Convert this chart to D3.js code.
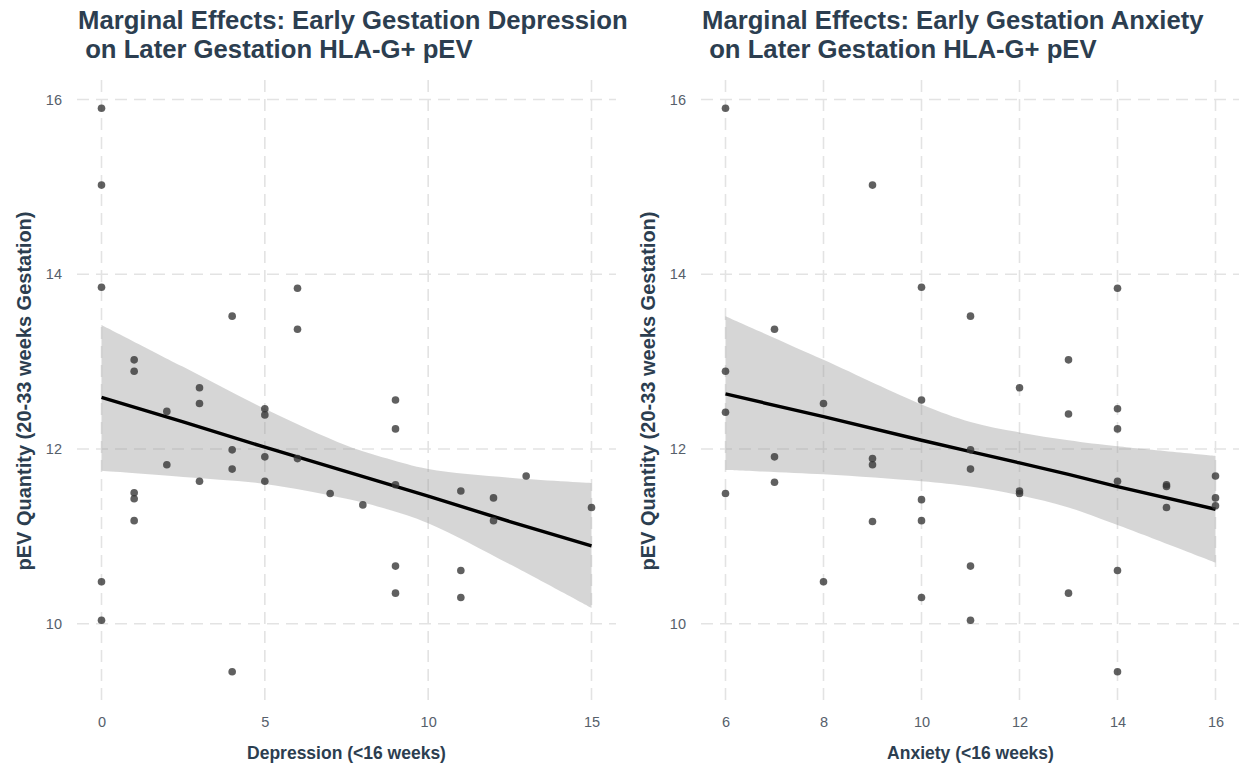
<!DOCTYPE html>
<html>
<head>
<meta charset="utf-8">
<script src="https://cdn.jsdelivr.net/npm/d3@7"></script>
<style>
  html, body { margin: 0; padding: 0; background: #ffffff; }
  svg { display: block; }
</style>
</head>
<body>
<svg id="chart" width="1239" height="766"></svg>
<script>
// ---- Depression panel: observations ----
const depScore = [0, 0, 0, 0, 0,
  1, 1, 1, 1, 1,
  2, 2,
  3, 3, 3,
  4, 4, 4, 4,
  5, 5, 5, 5,
  6, 6, 6,
  7, 8,
  9, 9, 9, 9, 9,
  11, 11, 11,
  12, 12,
  13, 15];
const depPEV = [15.90, 15.02, 13.85, 10.48, 10.04,
  13.02, 12.89, 11.50, 11.43, 11.18,
  12.43, 11.82,
  12.70, 12.52, 11.63,
  13.52, 11.99, 11.77, 9.45,
  12.46, 12.39, 11.91, 11.63,
  13.84, 13.37, 11.89,
  11.49, 11.36,
  12.56, 12.23, 11.59, 10.66, 10.35,
  11.52, 10.61, 10.30,
  11.44, 11.18,
  11.69, 11.33];

// ---- Depression panel: marginal effect and 95% band ----
const depGridX  = [0, 2.5, 5, 7.5, 8.75, 10, 12.5, 15];
const depFit    = [12.59, 12.31, 12.02, 11.74, 11.60, 11.46, 11.17, 10.89];
const depLower  = [11.75, 11.68, 11.60, 11.43, 11.31, 11.15, 10.68, 10.18];
const depUpper  = [13.42, 12.94, 12.46, 12.04, 11.89, 11.77, 11.67, 11.61];
const depTicks  = [0, 5, 10, 15];

// ---- Anxiety panel: observations ----
const anxScore = [6, 6, 6, 6,
  7, 7, 7,
  8, 8,
  9, 9, 9, 9,
  10, 10, 10, 10, 10,
  11, 11, 11, 11, 11,
  12, 12, 12,
  13, 13, 13,
  14, 14, 14, 14, 14, 14,
  15, 15, 15,
  16, 16, 16];
const anxPEV = [15.90, 12.89, 12.42, 11.49,
  13.37, 11.91, 11.62,
  12.52, 10.48,
  15.02, 11.89, 11.82, 11.17,
  13.85, 12.56, 11.42, 11.18, 10.30,
  13.52, 11.99, 11.77, 10.66, 10.04,
  12.70, 11.52, 11.49,
  13.02, 12.40, 10.35,
  13.84, 12.46, 12.23, 11.63, 10.61, 9.45,
  11.59, 11.57, 11.33,
  11.69, 11.44, 11.35];

// ---- Anxiety panel: marginal effect and 95% band ----
const anxGridX = [6, 8, 10, 11, 12, 13, 14, 16];
const anxFit   = [12.63, 12.37, 12.10, 11.97, 11.84, 11.71, 11.57, 11.31];
const anxLower = [11.76, 11.71, 11.63, 11.57, 11.47, 11.33, 11.13, 10.70];
const anxUpper = [13.52, 13.02, 12.51, 12.31, 12.19, 12.10, 12.03, 11.92];
const anxTicks = [6, 8, 10, 12, 14, 16];

const yTicks = [10, 12, 14, 16];

const titlesDep = ["Marginal Effects: Early Gestation Depression", " on Later Gestation HLA-G+ pEV"];
const titlesAnx = ["Marginal Effects: Early Gestation Anxiety", " on Later Gestation HLA-G+ pEV"];
const yTitle = "pEV Quantity (20-33 weeks Gestation)";

const FONT = "'Liberation Sans', Arial, Helvetica, sans-serif";
const TITLE_COL = "#2c3e50";
const TICK_COL = "#56606b";

const svg = d3.select("#chart");

// ggplot-style 5% expansion of a continuous range
function expand(ext, f = 0.05) {
  const pad = (ext[1] - ext[0]) * f;
  return [ext[0] - pad, ext[1] + pad];
}

const yDomain = expand(d3.extent(depPEV.concat(anxPEV)));

function drawPanel(opt) {
  const { left, right, top, bottom, xs, ys, gridX, fit, lower, upper, ticks, titles, xTitle } = opt;

  const x = d3.scaleLinear().domain(expand(d3.extent(xs))).range([left, right]);
  const y = d3.scaleLinear().domain(yDomain).range([bottom, top]);

  const g = svg.append("g");

  // dashed major grid
  const grid = g.append("g")
    .attr("stroke", "#e3e3e3")
    .attr("stroke-width", 1.6)
    .attr("stroke-dasharray", "12,7")
    .attr("fill", "none");
  grid.selectAll("line.h").data(yTicks).join("line")
    .attr("class", "h")
    .attr("x1", left).attr("x2", right)
    .attr("y1", d => y(d)).attr("y2", d => y(d));
  grid.selectAll("line.v").data(ticks).join("line")
    .attr("class", "v")
    .attr("y1", top).attr("y2", bottom)
    .attr("x1", d => x(d)).attr("x2", d => x(d));

  // confidence band
  const rows = gridX.map((gx, i) => ({ x: gx, fit: fit[i], lo: lower[i], hi: upper[i] }));
  const band = d3.area()
    .x(d => x(d.x))
    .y0(d => y(d.lo))
    .y1(d => y(d.hi))
    .curve(d3.curveCatmullRom.alpha(0.5));
  g.append("path")
    .datum(rows)
    .attr("d", band)
    .attr("fill", "#999999")
    .attr("fill-opacity", 0.4);

  // marginal effect line
  const line = d3.line().x(d => x(d.x)).y(d => y(d.fit));
  g.append("path")
    .datum(rows)
    .attr("d", line)
    .attr("fill", "none")
    .attr("stroke", "#000000")
    .attr("stroke-width", 3.4)
    .attr("stroke-linecap", "butt");

  // observations
  const pts = xs.map((v, i) => ({ x: v, y: ys[i] }));
  g.append("g").selectAll("circle").data(pts).join("circle")
    .attr("cx", d => x(d.x))
    .attr("cy", d => y(d.y))
    .attr("r", 3.8)
    .attr("fill", "#333333")
    .attr("fill-opacity", 0.78);

  // y axis tick labels
  const yAxis = d3.axisLeft(y).tickValues(yTicks).tickSize(0).tickPadding(0).tickFormat(d3.format("d"));
  const ya = g.append("g").attr("transform", `translate(${left - 15},0)`).call(yAxis);
  ya.select(".domain").remove();
  ya.selectAll("text")
    .attr("fill", TICK_COL)
    .style("font-family", FONT)
    .style("font-size", "14.5px");

  // x axis tick labels
  const xAxis = d3.axisBottom(x).tickValues(ticks).tickSize(0).tickPadding(0).tickFormat(d3.format("d"));
  const xa = g.append("g").attr("transform", `translate(0,${bottom + 17})`).call(xAxis);
  xa.select(".domain").remove();
  xa.selectAll("text")
    .attr("fill", TICK_COL)
    .style("font-family", FONT)
    .style("font-size", "14.5px");

  // axis titles
  g.append("text")
    .attr("x", (left + right) / 2)
    .attr("y", 759)
    .attr("text-anchor", "middle")
    .attr("fill", TITLE_COL)
    .style("font-family", FONT)
    .style("font-weight", "bold")
    .style("font-size", "17.5px")
    .text(xTitle);

  g.append("text")
    .attr("transform", `translate(${left - 46},${(top + bottom) / 2 + 1}) rotate(-90)`)
    .attr("text-anchor", "middle")
    .attr("fill", TITLE_COL)
    .style("font-family", FONT)
    .style("font-weight", "bold")
    .style("font-size", "20px")
    .text(yTitle);

  // plot title (two lines)
  const t = g.append("text")
    .attr("fill", TITLE_COL)
    .style("font-family", FONT)
    .style("font-weight", "bold")
    .style("font-size", "25.7px")
    .style("white-space", "pre")
    .attr("xml:space", "preserve");
  titles.forEach((s, i) => {
    t.append("tspan")
      .attr("x", left + 1)
      .attr("y", 29 + i * 29)
      .text(s);
  });
}

drawPanel({
  left: 77, right: 616, top: 80, bottom: 700,
  xs: depScore, ys: depPEV,
  gridX: depGridX, fit: depFit, lower: depLower, upper: depUpper,
  ticks: depTicks, titles: titlesDep, xTitle: "Depression (<16 weeks)"
});

drawPanel({
  left: 701, right: 1240, top: 80, bottom: 700,
  xs: anxScore, ys: anxPEV,
  gridX: anxGridX, fit: anxFit, lower: anxLower, upper: anxUpper,
  ticks: anxTicks, titles: titlesAnx, xTitle: "Anxiety (<16 weeks)"
});
</script>
</body>
</html>
